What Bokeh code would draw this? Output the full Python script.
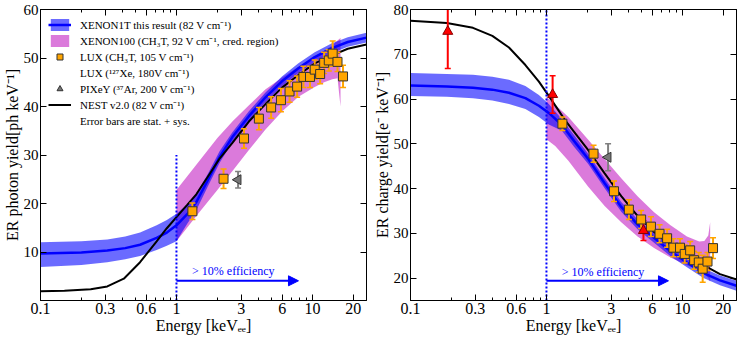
import numpy as np
from bokeh.plotting import figure
from bokeh.layouts import row
from bokeh.models import (Arrow, NormalHead, FixedTicker, CustomJSTickFormatter,
                          LogAxis, LinearAxis, Legend, LegendItem, Range1d)
from bokeh.core.properties import value
from bokeh.embed import file_html
from bokeh.resources import INLINE

FONT = "Liberation Serif"

# ---------------- data ----------------
x_ticks = [0.1, 0.3, 0.6, 1, 3, 6, 10, 20]
x_minor = [0.2, 0.4, 0.5, 0.7, 0.8, 0.9, 2, 4, 5, 7, 8, 9]
yticks_L = [10, 20, 30, 40, 50, 60]
yticks_R = [20, 30, 40, 50, 60, 70, 80]

# XENON1T (this result) - photon yield
x1t_E_L = [0.1, 0.2, 0.31, 0.42, 0.54, 0.715, 0.85, 1.0, 1.2, 1.4, 1.7, 2.07, 2.58, 3.41, 4.52, 5.97, 7.89, 10.4, 13.8, 18.2, 25]
x1t_L = [9.7, 9.9, 10.3, 10.8, 11.5, 12.9, 14.0, 15.5, 17.8, 20.3, 24.8, 29.5, 33.7, 38.0, 41.9, 45.2, 47.9, 50.2, 52.0, 53.3, 54.2]
x1t_hi_L = [12.0, 12.2, 12.6, 13.2, 14.0, 15.5, 16.6, 17.9, 19.8, 22.0, 26.1, 30.7, 34.7, 39.0, 42.9, 46.2, 48.9, 51.2, 53.0, 54.3, 55.2]
x1t_lo_L = [6.9, 7.3, 7.9, 8.5, 9.2, 10.4, 11.3, 12.2, 15.8, 18.6, 23.5, 28.3, 32.7, 37.0, 40.9, 44.2, 46.9, 49.2, 51.0, 52.3, 53.2]

# XENON100 credible region - photon yield
x100_E_L = [1.0, 1.4, 2.0, 2.6, 3.4, 4.5, 6.0, 7.9, 10.4, 12.2, 14.0, 15.3, 16.1]
x100_hi_L = [22.8, 28.0, 33.5, 37.0, 40.2, 43.5, 46.0, 48.2, 50.2, 51.5, 52.6, 53.6, 54.1]
x100_lo_L = [12.2, 17.4, 22.8, 26.8, 31.0, 35.2, 39.0, 42.0, 44.0, 45.0, 45.6, 45.8, 40.0]

# NEST v2.0 - photon yield
nest_E_L = [0.1, 0.15, 0.234, 0.31, 0.41, 0.54, 0.715, 0.85, 1.0, 1.2, 1.4, 1.7, 2.07, 2.58, 3.41, 4.52, 5.97, 7.89, 10.4, 13.8, 18.2, 25]
nest_L = [1.9, 2.0, 2.3, 2.9, 4.5, 7.9, 12.2, 14.9, 17.2, 19.7, 21.9, 25.5, 29.2, 32.5, 36.9, 40.5, 43.9, 46.5, 48.9, 50.5, 51.9, 52.8]

# LUX CH3T
lux_E = [1.31, 2.22, 3.14, 4.04, 4.97, 5.87, 6.79, 7.72, 8.59, 9.6, 10.4, 11.4, 12.2, 13.2, 14.1, 15.3, 16.8]
lux_L = [18.4, 25.1, 33.4, 37.5, 39.8, 41.3, 43.1, 44.1, 46.1, 46.1, 47.6, 46.7, 49.0, 49.5, 50.9, 49.2, 46.2]
lux_err_L = [1.7, 2.0, 2.0, 2.3, 2.2, 2.4, 2.2, 2.2, 2.2, 2.2, 2.0, 2.0, 2.2, 2.2, 2.6, 2.0, 2.3]
lux_R = [54.5, 47.8, 39.4, 35.3, 33.1, 31.5, 29.9, 28.9, 26.8, 26.8, 25.4, 26.2, 24.0, 23.5, 22.1, 23.7, 26.7]
lux_err_R = [1.5, 1.9, 2.3, 2.2, 2.0, 2.2, 2.0, 2.0, 2.0, 2.0, 2.0, 2.0, 2.0, 2.2, 3.0, 2.0, 2.3]

# LUX 127Xe (charge yield only)
xe_E = [0.188, 1.11, 5.17]
xe_R = [75.1, 61.0, 30.6]
xe_err_R = [8.3, 4.2, 2.2]

# PIXeY 37Ar
pix_E = [2.84]
pix_L = [24.9]
pix_err_L = [1.7]
pix_R = [47.0]
pix_err_R = [3.0]

# XENON1T - charge yield
x1t_E_R = [0.1, 0.185, 0.288, 0.4, 0.53, 0.7, 0.88, 1.04, 1.3, 1.6, 2.03, 2.68, 3.55, 4.68, 6.19, 8.18, 10.8, 14.3, 18.9, 25]
x1t_R = [63.0, 62.8, 62.5, 62.1, 61.4, 60.2, 58.5, 56.9, 54.2, 50.6, 46.6, 41.2, 35.9, 32.0, 29.0, 26.0, 23.5, 21.1, 19.5, 18.3]
x1t_hi_R = [65.8, 65.6, 65.4, 65.0, 64.3, 62.9, 60.9, 58.9, 55.5, 51.9, 47.7, 42.3, 37.0, 33.1, 30.1, 27.1, 24.6, 22.2, 20.6, 19.4]
x1t_lo_R = [60.7, 60.5, 60.2, 59.7, 58.9, 57.8, 56.0, 54.3, 52.9, 49.3, 45.5, 40.1, 34.8, 30.9, 27.9, 24.9, 22.4, 20.0, 18.4, 17.2]

# XENON100 - charge yield
x100_E_R = [1.0, 1.16, 1.45, 2.03, 2.68, 3.55, 4.68, 6.19, 8.18, 10.8, 13.3, 14.5, 15.5, 16.0]
x100_hi_R = [60.5, 58.7, 56.0, 50.9, 46.6, 42.3, 38.3, 34.7, 31.8, 29.3, 28.2, 28.3, 29.5, 32.5]
x100_lo_R = [51.0, 49.5, 46.2, 40.4, 36.1, 32.5, 29.3, 26.7, 24.6, 22.9, 21.7, 20.9, 20.0, 19.2]

# NEST - charge yield
nest_E_R = [0.1, 0.185, 0.288, 0.4, 0.53, 0.7, 0.88, 1.04, 1.37, 1.7, 2.03, 2.68, 3.55, 4.68, 6.19, 8.18, 10.8, 14.3, 18.9, 25]
nest_R = [77.5, 77.0, 75.9, 74.1, 71.5, 67.6, 63.9, 60.7, 55.3, 51.6, 48.6, 43.4, 38.3, 33.9, 30.3, 27.4, 25.1, 22.9, 20.9, 19.7]

eff_text = "> 10% efficiency"

# ---------------- styling helpers ----------------
BLUE = "#0000ff"
MAG = "#c832c8"
ORANGE = "#ffa500"


def style_axis(ax, labels=True, size="15px"):
    ax.axis_line_color = "black"
    ax.axis_line_width = 1
    ax.major_tick_in = 6
    ax.major_tick_out = 0
    ax.minor_tick_in = 3
    ax.minor_tick_out = 0
    ax.major_tick_line_color = "black"
    ax.minor_tick_line_color = "black"
    if labels:
        ax.major_label_text_font = FONT
        ax.major_label_text_font_size = size
        ax.major_label_text_color = "black"
        ax.major_label_standoff = 2
        ax.axis_label_text_font = FONT
        ax.axis_label_text_font_size = "16px"
        ax.axis_label_text_font_style = "normal"
        ax.axis_label_text_color = "black"
        ax.axis_label_standoff = 0
    else:
        ax.major_label_text_color = None
        ax.major_label_text_font_size = "1px"
        ax.major_label_standoff = 0
        ax.formatter = CustomJSTickFormatter(code="return '';")


def make_fig(width, yr, yticks, ylabel, min_left, min_right):
    p = figure(width=width, height=336, x_axis_type="log",
               x_range=Range1d(0.1, 25), y_range=Range1d(*yr),
               output_backend="svg", toolbar_location=None,
               min_border_left=min_left, min_border_right=min_right,
               min_border_top=9, min_border_bottom=34)
    p.xgrid.visible = False
    p.ygrid.visible = False
    p.outline_line_color = "black"
    p.outline_line_width = 1
    p.background_fill_color = "white"
    p.border_fill_color = "white"

    p.xaxis.ticker = FixedTicker(ticks=x_ticks, minor_ticks=x_minor)
    p.xaxis.formatter = CustomJSTickFormatter(code="return String(tick);")
    p.xaxis.axis_label = "Energy [keVₑₑ]"
    p.yaxis.ticker = FixedTicker(ticks=yticks, minor_ticks=[])
    p.yaxis.axis_label = ylabel
    for ax in p.xaxis:
        style_axis(ax, size="16px")
    for ax in p.yaxis:
        style_axis(ax, size="15px")

    top = LogAxis(ticker=FixedTicker(ticks=x_ticks, minor_ticks=x_minor))
    style_axis(top, labels=False)
    p.add_layout(top, "above")
    right = LinearAxis(ticker=FixedTicker(ticks=yticks, minor_ticks=[]))
    style_axis(right, labels=False)
    p.add_layout(right, "right")
    return p


def errbars(p, x, y, err, color, width=2):
    lo = np.array(y) - np.array(err)
    hi = np.array(y) + np.array(err)
    p.segment(x0=x, y0=lo, x1=x, y1=hi, line_color=color, line_width=width)
    p.scatter(x=list(x) + list(x), y=list(lo) + list(hi), marker="dash", size=6,
              line_color=color, line_width=1.5)


# ---------------- left panel: photon yield ----------------
pL = make_fig(370, (0, 60), yticks_L, "ER photon yield[ph keV⁻¹]", 39, 4)

x100L = pL.varea(x=x100_E_L, y1=x100_lo_L, y2=x100_hi_L, fill_color=MAG, fill_alpha=0.65)
x1tbL = pL.varea(x=x1t_E_L, y1=x1t_lo_L, y2=x1t_hi_L, fill_color=BLUE, fill_alpha=0.58)
x1tlL = pL.line(x=x1t_E_L, y=x1t_L, line_color=BLUE, line_width=2.5)
nestL = pL.line(x=nest_E_L, y=nest_L, line_color="black", line_width=2)
pL.line(x=[1, 1], y=[0, 30], line_color=BLUE, line_width=2, line_dash="2 2")
pL.add_layout(Arrow(end=NormalHead(size=10, fill_color=BLUE, line_color=BLUE),
                    x_start=1, y_start=4.06, x_end=7.9, y_end=4.06,
                    line_color=BLUE, line_width=2))
pL.text(x=[2.62], y=[6.0], text=[eff_text], text_font=value(FONT), text_font_size="12px",
        text_color=BLUE, text_align="center", text_baseline="middle")

errbars(pL, lux_E, lux_L, lux_err_L, ORANGE)
errbars(pL, pix_E, pix_L, pix_err_L, "#808080")
luxL = pL.scatter(x=lux_E, y=lux_L, marker="square", size=9, fill_color=ORANGE,
                  line_color="#333333", line_width=1)
pixL = pL.scatter(x=pix_E, y=pix_L, marker="triangle", angle=np.pi / 2, size=10,
                  fill_color="#777777", line_color="#333333", line_width=1)
xeL = pL.scatter(x=[], y=[], marker="triangle", size=10, fill_color="red",
                 line_color="#880000", line_width=1)
dummy = pL.scatter(x=[], y=[], marker="circle", size=1, alpha=0)

legend = Legend(items=[
    LegendItem(label="XENON1T this result (82 V cm⁻¹)", renderers=[x1tbL, x1tlL]),
    LegendItem(label="XENON100 (CH₃T, 92 V cm⁻¹, cred. region)", renderers=[x100L]),
    LegendItem(label="LUX (CH₃T, 105 V cm⁻¹)", renderers=[luxL]),
    LegendItem(label="LUX (¹²⁷Xe, 180V cm⁻¹)", renderers=[xeL]),
    LegendItem(label="PIXeY (³⁷Ar, 200 V cm⁻¹)", renderers=[pixL]),
    LegendItem(label="NEST v2.0 (82 V cm⁻¹)", renderers=[nestL]),
    LegendItem(label="Error bars are stat. + sys.", renderers=[dummy]),
], location="top_left")
legend.border_line_color = None
legend.background_fill_alpha = 0
legend.label_text_font = FONT
legend.label_text_font_size = "11px"
legend.label_text_color = "black"
legend.glyph_width = 23
legend.glyph_height = 15
legend.label_height = 15
legend.spacing = 1
legend.padding = 7
legend.margin = 8
legend.label_standoff = 9
pL.add_layout(legend)

# ---------------- right panel: charge yield ----------------
pR = make_fig(369, (15, 80), yticks_R, "ER charge yield[e⁻ keV⁻¹]", 39, 3)

pR.varea(x=x100_E_R, y1=x100_lo_R, y2=x100_hi_R, fill_color=MAG, fill_alpha=0.65)
pR.varea(x=x1t_E_R, y1=x1t_lo_R, y2=x1t_hi_R, fill_color=BLUE, fill_alpha=0.58)
pR.line(x=x1t_E_R, y=x1t_R, line_color=BLUE, line_width=2.5)
pR.line(x=nest_E_R, y=nest_R, line_color="black", line_width=2)
pR.line(x=[1, 1], y=[15, 80], line_color=BLUE, line_width=2, line_dash="2 2")
pR.add_layout(Arrow(end=NormalHead(size=10, fill_color=BLUE, line_color=BLUE),
                    x_start=1, y_start=19.4, x_end=7.9, y_end=19.4,
                    line_color=BLUE, line_width=2))
pR.text(x=[2.61], y=[21.4], text=[eff_text], text_font=value(FONT), text_font_size="12px",
        text_color=BLUE, text_align="center", text_baseline="middle")

errbars(pR, lux_E, lux_R, lux_err_R, ORANGE)
errbars(pR, xe_E, xe_R, xe_err_R, "red")
errbars(pR, pix_E, pix_R, pix_err_R, "#808080")
pR.scatter(x=lux_E, y=lux_R, marker="square", size=9, fill_color=ORANGE,
           line_color="#333333", line_width=1)
pR.scatter(x=xe_E, y=xe_R, marker="triangle", size=10, fill_color="red",
           line_color="#880000", line_width=1)
pR.scatter(x=pix_E, y=pix_R, marker="triangle", angle=np.pi / 2, size=10,
           fill_color="#777777", line_color="#333333", line_width=1)

layout = row(pL, pR)
open("out.html", "w").write(file_html(layout, INLINE))
